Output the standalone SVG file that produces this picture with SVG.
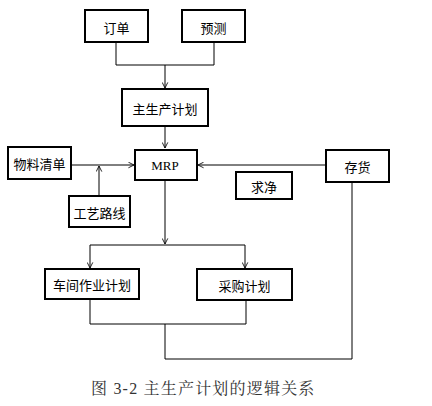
<svg xmlns="http://www.w3.org/2000/svg" width="432" height="406" viewBox="0 0 432 406">
<defs>
<style>
.box{fill:#fff;stroke:#000;stroke-width:2}
.lbl{font-family:"Noto Sans CJK SC","Liberation Sans",sans-serif;font-size:13px;fill:#000;text-anchor:middle;dominant-baseline:central}
.ln{fill:none;stroke:#000;stroke-width:1}
.cap{font-family:"Liberation Serif","Noto Serif CJK SC","Noto Sans CJK SC",serif;font-size:16px;fill:#333}
</style>
<marker id="ah" viewBox="0 0 10 10" refX="9" refY="5" markerWidth="7" markerHeight="7" orient="auto" markerUnits="userSpaceOnUse">
<path d="M1,1 L9,5 L1,9" fill="none" stroke="#000" stroke-width="1.2"/>
</marker>
</defs>
<rect width="432" height="406" fill="#fff"/>
<g id="connectors">
<path class="ln" d="M116,42 V65 H214 V42"/>
<path class="ln" d="M165,65 V88" marker-end="url(#ah)"/>
<path class="ln" d="M165,126 V148" marker-end="url(#ah)"/>
<path class="ln" d="M71,165 H134" marker-end="url(#ah)"/>
<path class="ln" d="M99,195 V166" marker-end="url(#ah)"/>
<path class="ln" d="M326,165 H198" marker-end="url(#ah)"/>
<path class="ln" d="M165,180 V244" marker-end="url(#ah)"/>
<path class="ln" d="M90,245 H245"/>
<path class="ln" d="M90,245 V268" marker-end="url(#ah)"/>
<path class="ln" d="M245,245 V268" marker-end="url(#ah)"/>
<path class="ln" d="M90,299 V324 H246 V300"/>
<path class="ln" d="M165,324 V359 H352 V182"/>
</g>
<g id="order"><rect class="box" x="85" y="10" width="63" height="32"/><text class="lbl" x="116.5" y="27">订单</text></g>
<g id="forecast"><rect class="box" x="182" y="10" width="63" height="32"/><text class="lbl" x="213.5" y="27">预测</text></g>
<g id="mps"><rect class="box" x="122" y="89" width="86" height="37"/><text class="lbl" x="165" y="108">主生产计划</text></g>
<g id="mrp"><rect class="box" x="135" y="150" width="62" height="30"/><text x="165" y="170" font-family="Liberation Serif, serif" font-size="13" text-anchor="middle" fill="#000">MRP</text></g>
<g id="bom"><rect class="box" x="8" y="147" width="63" height="32"/><text class="lbl" x="39.5" y="163">物料清单</text></g>
<g id="routing"><rect class="box" x="69" y="196" width="61" height="31"/><text class="lbl" x="99.5" y="212">工艺路线</text></g>
<g id="inventory"><rect class="box" x="326" y="150" width="63" height="32"/><text class="lbl" x="357.5" y="166">存货</text></g>
<g id="net"><rect class="box" x="236" y="172" width="56" height="27"/><text class="lbl" x="264" y="186">求净</text></g>
<g id="shop"><rect class="box" x="45" y="269" width="94" height="30"/><text class="lbl" x="92" y="284">车间作业计划</text></g>
<g id="purchase"><rect class="box" x="197" y="269" width="95" height="31"/><text class="lbl" x="244.5" y="285">采购计划</text></g>
<text class="cap" x="91" y="394" letter-spacing="1.2">图 3-2 主生产计划的逻辑关系</text>
</svg>
